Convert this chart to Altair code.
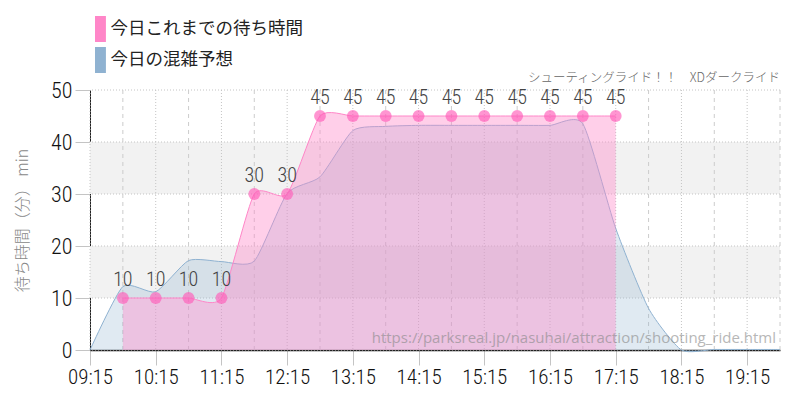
import pandas as pd
import altair as alt

# minutes after 09:15
pred_minutes = [0, 30, 60, 90, 120, 150, 180, 210, 240, 270, 300, 330, 360, 390, 420, 450, 480, 510, 540, 570, 600, 630]
pred_values = [0, 12.2, 11.2, 17.2, 17.0, 17.1, 30.1, 33.3, 42.2, 43.0, 43.2, 43.2, 43.2, 43.2, 43.2, 43.5, 23.4, 8.0, 0, 0.1, 0.1, 0.1]

wait_minutes = [30, 60, 90, 120, 150, 180, 210, 240, 270, 300, 330, 360, 390, 420, 450, 480]
wait_values = [10, 10, 10, 10, 30, 30, 45, 45, 45, 45, 45, 45, 45, 45, 45, 45]

hour_ticks = [0, 60, 120, 180, 240, 300, 360, 420, 480, 540, 600]
hour_labels = ["09:15", "10:15", "11:15", "12:15", "13:15", "14:15", "15:15", "16:15", "17:15", "18:15", "19:15"]
half_ticks = [30, 90, 150, 210, 270, 330, 390, 450, 510, 570, 630]
y_ticks = [0, 10, 20, 30, 40, 50]
band_low = [10, 30]
band_high = [20, 40]
series_names = ["今日これまでの待ち時間", "今日の混雑予想"]

PINK = "#ff86c8"
BLUE = "#8fb2d1"
NARROW = "'Roboto Condensed','Noto Sans Condensed','Open Sans Condensed','DejaVu Sans Condensed'"
JP = "Noto Sans CJK JP"

x_scale = alt.Scale(domain=[0, 630], nice=False, zero=False)
y_scale = alt.Scale(domain=[0, 50], nice=False)
color_scale = alt.Scale(domain=series_names, range=[PINK, BLUE])

pred = pd.DataFrame({"t": pred_minutes, "v": pred_values})
wait = pd.DataFrame({"t": wait_minutes, "v": wait_values})
bands = pd.DataFrame({"a": band_low, "b": band_high})
hours = pd.DataFrame({"t": hour_ticks})
halves = pd.DataFrame({"t": half_ticks})
ys = pd.DataFrame({"v": y_ticks})
names = pd.DataFrame({"s": series_names})

label_expr = "{" + ",".join(f"'{t}':'{s}'" for t, s in zip(hour_ticks, hour_labels)) + "}[datum.value]"

x_axis = alt.Axis(
    values=hour_ticks, labelExpr=label_expr, title=None, grid=False,
    labelFont=NARROW, labelFontSize=21, labelFontWeight=300, labelColor="#111111", labelPadding=1,
    labelOverlap=False, labelFlush=False,
    tickSize=15, tickColor="#c4c4c4", domainColor="#222222", domainWidth=1.5)
y_axis = alt.Axis(
    values=y_ticks, title="待ち時間\uff08分\uff09 min", grid=False,
    labelFont=NARROW, labelFontSize=22, labelFontWeight=300, labelColor="#111111", labelPadding=3,
    labelOverlap=False, labelFlush=False,
    titleFont=JP, titleFontSize=16, titleFontWeight=300, titleColor="#888888", titlePadding=20,
    tickSize=15, tickColor="#c4c4c4", domainColor="#222222", domainWidth=1)
x_enc = alt.X("t:Q", scale=x_scale, axis=x_axis)
y_enc = alt.Y("v:Q", scale=y_scale, axis=y_axis)

band_layer = alt.Chart(bands).mark_rect(color="#f2f2f2").encode(
    y=alt.Y("a:Q", scale=y_scale, axis=y_axis), y2="b:Q"
)
hgrid = alt.Chart(ys).mark_rule(color="#c4c4c4", strokeDash=[1, 2]).encode(y=y_enc)
hour_grid = alt.Chart(hours).mark_rule(color="#c4c4c4", strokeDash=[1, 2]).encode(x=x_enc)
half_grid = alt.Chart(halves).mark_rule(color="#cccccc", strokeDash=[4, 4]).encode(x=x_enc)

pred_area = alt.Chart(pred).mark_area(
    interpolate="cardinal", tension=0.4, opacity=0.28, color=BLUE, line={"color": BLUE, "strokeWidth": 1}
).encode(x=x_enc, y=y_enc)
wait_area = alt.Chart(wait).mark_area(
    interpolate="cardinal", tension=0.4, opacity=0.4, color=PINK, line={"color": PINK, "strokeWidth": 1}
).encode(x=x_enc, y=y_enc)
wait_points = alt.Chart(wait).mark_point(filled=True, size=140, opacity=0.65, color="#ff5cb8").encode(
    x=x_enc, y=y_enc
)
wait_text = alt.Chart(wait).mark_text(
    font=NARROW, fontSize=20, fontWeight=300, color="#444444", dy=-18
).encode(x=x_enc, y=y_enc, text="v:Q")

# only there to carry the legend, its own marks have no size
legend_layer = alt.Chart(names).mark_point(filled=True, opacity=1, size=0).encode(
    x=alt.value(0), y=alt.value(0),
    color=alt.Color("s:N", scale=color_scale, sort=series_names, legend=alt.Legend(
        orient="none", legendX=-5.4, legendY=-74, title=None,
        symbolType="M-0.2,-1H0.64V1H-0.2Z", symbolSize=676, symbolOpacity=1,
        symbolStrokeWidth=0, labelFont=JP, labelFontSize=17.5, labelFontWeight=400,
        labelColor="#222222", labelLimit=300, rowPadding=5, labelOffset=0)),
)
ride_text = alt.Chart(pd.DataFrame({"s": ["シューティングライド\uff01\uff01\u3000XDダークライド"]})).mark_text(
    font=JP, fontSize=12.5, fontWeight=300, color="#666666", align="right", baseline="bottom"
).encode(x=alt.value(690), y=alt.value(-5), text="s:N")
url_text = alt.Chart(pd.DataFrame({"s": ["https://parksreal.jp/nasuhai/attraction/shooting_ride.html"]})).mark_text(
    font="Open Sans", fontSize=15, color="#888888", opacity=0.6, align="right"
).encode(x=alt.value(686), y=alt.value(248), text="s:N")

chart = alt.layer(
    band_layer, hgrid, hour_grid, half_grid, pred_area, wait_area,
    wait_points, wait_text, legend_layer, ride_text, url_text
).properties(
    width=690, height=260,
    autosize=alt.AutoSizeParams(type="none"),
    padding={"left": 82, "top": 82, "right": 8, "bottom": 40},
).configure_view(stroke=None)

chart.save("out.html", embed_options={"renderer": "svg", "actions": False})
